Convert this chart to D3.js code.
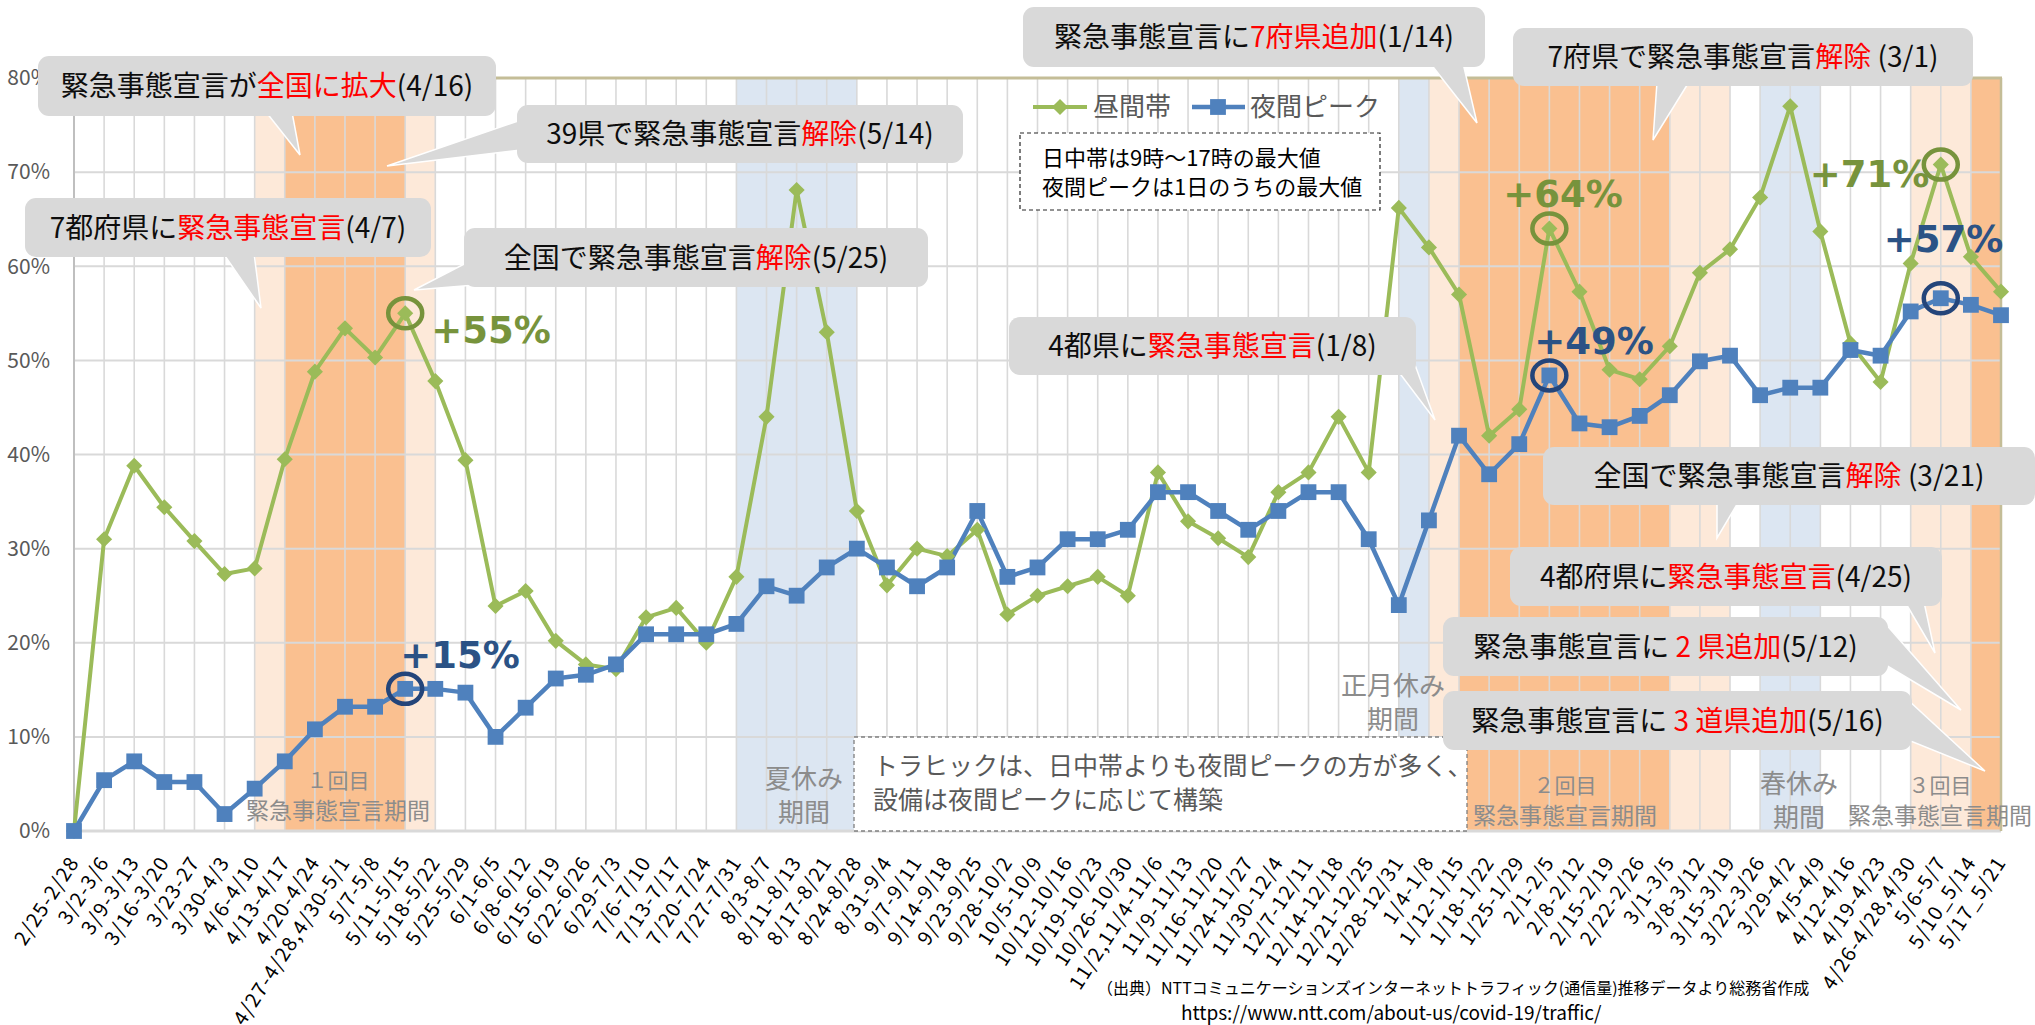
<!DOCTYPE html>
<html>
<head>
<meta charset="utf-8">
<script src="https://cdn.jsdelivr.net/npm/d3@7"></script>
<style>
  body { margin: 0; background: #fff; }
  svg { display: block; }
  text { font-family: "Noto Sans CJK JP", "Noto Sans", sans-serif; }
</style>
</head>
<body>
<script>
// week labels (x axis)
const categories = [
  "2/25-2/28", "3/2-3/6", "3/9-3/13", "3/16-3/20", "3/23-27", "3/30-4/3", "4/6-4/10",
  "4/13-4/17", "4/20-4/24", "4/27-4/28,4/30-5/1", "5/7-5/8", "5/11-5/15", "5/18-5/22",
  "5/25-5/29", "6/1-6/5", "6/8-6/12", "6/15-6/19", "6/22-6/26", "6/29-7/3", "7/6-7/10",
  "7/13-7/17", "7/20-7/24", "7/27-7/31", "8/3-8/7", "8/11-8/13", "8/17-8/21", "8/24-8/28",
  "8/31-9/4", "9/7-9/11", "9/14-9/18", "9/23-9/25", "9/28-10/2", "10/5-10/9", "10/12-10/16",
  "10/19-10/23", "10/26-10/30", "11/2,11/4-11/6", "11/9-11/13", "11/16-11/20", "11/24-11/27",
  "11/30-12/4", "12/7-12/11", "12/14-12/18", "12/21-12/25", "12/28-12/31", "1/4-1/8",
  "1/12-1/15", "1/18-1/22", "1/25-1/29", "2/1-2/5", "2/8-2/12", "2/15-2/19", "2/22-2/26",
  "3/1-3/5", "3/8-3/12", "3/15-3/19", "3/22-3/26", "3/29-4/2", "4/5-4/9", "4/12-4/16",
  "4/19-4/23", "4/26-4/28,4/30", "5/6-5/7", "5/10_5/14", "5/17_5/21"
];

// 昼間帯 (%)
const daytime = [
  0, 31.0, 38.8, 34.4, 30.8, 27.3, 27.9, 39.5, 48.8, 53.4, 50.3, 55.0, 47.8, 39.4,
  23.9, 25.5, 20.2, 17.7, 17.2, 22.7, 23.7, 20.0, 27.0, 44.0, 68.1, 53.0, 34.0, 26.1,
  30.0, 29.2, 32.0, 23.0, 25.0, 26.0, 27.0, 25.0, 38.1, 32.9, 31.1, 29.1, 36.0, 38.1,
  44.0, 38.1, 66.2, 62.0, 57.0, 42.0, 44.8, 64.0, 57.3, 49.0, 48.0, 51.5, 59.3, 61.8,
  67.3, 77.0, 63.7, 51.8, 47.7, 60.3, 70.8, 61.0, 57.3
];

// 夜間ピーク (%)
const nighttime = [
  0, 5.4, 7.4, 5.2, 5.2, 1.8, 4.5, 7.4, 10.8, 13.2, 13.2, 15.1, 15.1, 14.7,
  10.0, 13.1, 16.2, 16.6, 17.7, 20.9, 20.9, 20.9, 22.0, 26.0, 25.0, 28.0, 30.0, 28.0,
  26.0, 28.0, 34.0, 27.0, 28.0, 31.0, 31.0, 32.0, 36.0, 36.0, 34.0, 32.0, 34.0, 36.0,
  36.0, 31.0, 24.0, 33.0, 42.0, 37.9, 41.1, 48.4, 43.3, 42.9, 44.1, 46.3, 49.9, 50.5,
  46.3, 47.1, 47.1, 51.1, 50.5, 55.2, 56.6, 55.9, 54.8
];

const yTicks = [0, 10, 20, 30, 40, 50, 60, 70, 80];

// shaded periods, in category indexes
const bandFrom = [6, 7, 11, 22, 44, 45, 46, 53, 56, 61, 63];
const bandTo   = [7, 11, 12, 26, 45, 46, 53, 55, 58, 63, 64];
const bandKind = ["pre", "state", "pre", "holiday", "holiday", "pre", "state", "pre", "holiday", "pre", "state"];

// highlighted points
const highlightIdx = [11, 11, 49, 49, 62, 62];
const highlightSeries = ["day", "night", "day", "night", "day", "night"];
const highlightText = ["+55%", "+15%", "+64%", "+49%", "+71%", "+57%"];

// callout texts: before / red part / after
const calloutPre  = ["緊急事態宣言が", "39県で緊急事態宣言", "7都府県に", "全国で緊急事態宣言",
  "緊急事態宣言に", "7府県で緊急事態宣言", "4都県に", "全国で緊急事態宣言",
  "4都府県に", "緊急事態宣言に ", "緊急事態宣言に "];
const calloutRed  = ["全国に拡大", "解除", "緊急事態宣言", "解除", "7府県追加", "解除",
  "緊急事態宣言", "解除", "緊急事態宣言", "2 県追加", "3 道県追加"];
const calloutPost = ["(4/16)", "(5/14)", "(4/7)", "(5/25)", "(1/14)", " (3/1)", "(1/8)",
  " (3/21)", "(4/25)", "(5/12)", "(5/16)"];

const periodLines = [["１回目", "緊急事態宣言期間"], ["夏休み", "期間"], ["正月休み", "期間"],
  ["２回目", "緊急事態宣言期間"], ["春休み", "期間"], ["３回目", "緊急事態宣言期間"]];

const width = 2035, height = 1025;

const x = d3.scalePoint().domain(d3.range(categories.length)).range([74, 2001]);
const y = d3.scaleLinear().domain([0, 80]).range([831, 78]);

const green = "#9bbb59", blue = "#4f81bd";
const greenDark = "#77933c", blueDark = "#2b5285";
const bandColor = { pre: "#fde9d9", state: "#fac090", holiday: "#dce6f2" };

const svg = d3.select("body").append("svg")
  .attr("width", width).attr("height", height)
  .attr("viewBox", [0, 0, width, height]);

svg.append("rect").attr("width", width).attr("height", height).attr("fill", "#fff");

// bands
svg.append("g").selectAll("rect")
  .data(bandFrom.map((f, i) => ({ f, t: bandTo[i], k: bandKind[i] })))
  .join("rect")
  .attr("x", d => x(d.f)).attr("width", d => x(d.t) - x(d.f))
  .attr("y", y(80)).attr("height", y(0) - y(80))
  .attr("fill", d => bandColor[d.k]);

// grid
const grid = svg.append("g").attr("stroke", "#d9d9d9");
grid.selectAll(".v").data(d3.range(categories.length)).join("line")
  .attr("x1", d => x(d)).attr("x2", d => x(d))
  .attr("y1", y(80)).attr("y2", y(0)).attr("stroke-width", 1.6);
grid.selectAll(".h").data(yTicks.slice(1, -1)).join("line")
  .attr("x1", x(0)).attr("x2", x(categories.length - 1))
  .attr("y1", d => y(d)).attr("y2", d => y(d)).attr("stroke-width", 2);
svg.append("line").attr("x1", x(0)).attr("x2", x(categories.length - 1))
  .attr("y1", y(0)).attr("y2", y(0)).attr("stroke", "#d9d9d9").attr("stroke-width", 3);
svg.append("line").attr("x1", x(0) - 1).attr("x2", x(categories.length - 1) + 1)
  .attr("y1", y(80)).attr("y2", y(80)).attr("stroke", "#c4bd97").attr("stroke-width", 3);
svg.append("line").attr("x1", x(categories.length - 1)).attr("x2", x(categories.length - 1))
  .attr("y1", y(80)).attr("y2", y(0)).attr("stroke", "#c4bd97").attr("stroke-width", 2.5);
svg.append("line").attr("x1", x(0)).attr("x2", x(0))
  .attr("y1", y(80)).attr("y2", y(0)).attr("stroke", "#bfbfbf").attr("stroke-width", 2);

// y axis labels
svg.append("g").selectAll("text").data(yTicks).join("text")
  .attr("x", 50).attr("y", d => y(d)).attr("dy", "0.35em")
  .attr("text-anchor", "end").attr("font-size", 21).attr("fill", "#595959")
  .text(d => d + "%");

// x axis labels
svg.append("g").selectAll("text").data(categories).join("text")
  .attr("transform", (d, i) => `translate(${x(i) + 6},${862}) rotate(-57)`)
  .attr("text-anchor", "end").attr("font-size", 20).attr("letter-spacing", 1.3)
  .attr("fill", "#000")
  .text(d => d);

// dashed note at the bottom
svg.append("rect").attr("x", 854).attr("y", 737).attr("width", 613).attr("height", 94)
  .attr("fill", "#fff").attr("stroke", "#7f7f7f").attr("stroke-width", 1.3)
  .attr("stroke-dasharray", "4,3");
svg.append("text").attr("x", 873).attr("y", 766).attr("dy", "0.35em")
  .attr("font-size", 25).attr("fill", "#595959")
  .text("トラヒックは、日中帯よりも夜間ピークの方が多く、");
svg.append("text").attr("x", 873).attr("y", 800).attr("dy", "0.35em")
  .attr("font-size", 25).attr("fill", "#595959")
  .text("設備は夜間ピークに応じて構築");

// period labels
const periodX = [338, 804, 1393, 1565, 1799, 1940];
const periodY = [[781, 811], [779, 813], [686, 720], [786, 816], [784, 818], [786, 816]];
const periodSize = [[21, 23], [26, 26], [26, 26], [21, 23], [26, 26], [21, 23]];
periodLines.forEach((lines, i) => {
  lines.forEach((t, j) => {
    svg.append("text").attr("x", periodX[i]).attr("y", periodY[i][j]).attr("dy", "0.35em")
      .attr("text-anchor", "middle").attr("font-size", periodSize[i][j])
      .attr("fill", "#8c8c8c").text(t);
  });
});

// lines
const line = d3.line().x((d, i) => x(i)).y(d => y(d));
svg.append("path").datum(daytime).attr("d", line)
  .attr("fill", "none").attr("stroke", green).attr("stroke-width", 4)
  .attr("stroke-linejoin", "round");
svg.append("path").datum(nighttime).attr("d", line)
  .attr("fill", "none").attr("stroke", blue).attr("stroke-width", 4.5)
  .attr("stroke-linejoin", "round");

const diamond = d3.symbol().type(d3.symbolSquare).size(130);
const square = d3.symbol().type(d3.symbolSquare).size(250);

svg.append("g").selectAll("path").data(daytime).join("path")
  .attr("d", diamond)
  .attr("transform", (d, i) => `translate(${x(i)},${y(d)}) rotate(45)`)
  .attr("fill", green);
svg.append("g").selectAll("path").data(nighttime).join("path")
  .attr("d", square)
  .attr("transform", (d, i) => `translate(${x(i)},${y(d)})`)
  .attr("fill", blue);

// highlight circles and labels
const labelDx = [26, -5, -46, -15, -131, -57];
const labelDy = [30, -21, -22, -21, 22, -46];
highlightIdx.forEach((idx, i) => {
  const isDay = highlightSeries[i] === "day";
  const v = isDay ? daytime[idx] : nighttime[idx];
  const cx = x(idx), cy = y(v);
  svg.append("ellipse").attr("cx", cx).attr("cy", cy).attr("rx", 17).attr("ry", 15)
    .attr("fill", "none").attr("stroke", isDay ? greenDark : "#24457a").attr("stroke-width", 4.5);
  svg.append("text").attr("x", cx + labelDx[i]).attr("y", cy + labelDy[i])
    .style("font-family", "'DejaVu Sans', Verdana, sans-serif")
    .attr("font-weight", "bold").attr("font-size", 37)
    .attr("fill", isDay ? greenDark : blueDark)
    .text(highlightText[i]);
});

// callouts
const boxes = [
  [38, 56, 458, 60], [517, 105, 446, 58], [25, 198, 406, 59], [464, 228, 464, 59],
  [1023, 7, 462, 60], [1513, 28, 460, 58], [1009, 317, 407, 58], [1543, 447, 492, 58],
  [1510, 547, 432, 59], [1443, 617, 445, 59], [1443, 691, 469, 59]
];
const tails = [
  [[266, 112], [292, 112], [300, 155]],
  [[521, 120], [521, 150], [387, 166]],
  [[223, 253], [254, 253], [261, 308]],
  [[468, 262], [500, 283], [414, 290]],
  [[1430, 63], [1463, 63], [1477, 123]],
  [[1657, 82], [1689, 82], [1653, 140]],
  [[1398, 371], [1414, 362], [1435, 420]],
  [[1717, 501], [1739, 501], [1717, 538]],
  [[1905, 602], [1924, 602], [1935, 653]],
  [[1884, 622], [1884, 664], [1961, 710]],
  [[1908, 700], [1908, 740], [1985, 771]]
];
const callouts = svg.append("g");
boxes.forEach((b, i) => {
  const g = callouts.append("g");
  g.append("path").attr("d", "M" + tails[i].join("L") + "Z")
    .attr("fill", "#d9d9d9").attr("stroke", "#fff").attr("stroke-width", 1.5);
  g.append("rect").attr("x", b[0]).attr("y", b[1]).attr("width", b[2]).attr("height", b[3])
    .attr("rx", 11).attr("fill", "#d9d9d9");
  const t = g.append("text").attr("x", b[0] + b[2] / 2).attr("y", b[1] + b[3] / 2)
    .attr("dy", "0.36em").attr("text-anchor", "middle").attr("font-size", 28).attr("fill", "#0d0d0d");
  t.append("tspan").text(calloutPre[i]);
  t.append("tspan").attr("fill", "#ff0000").text(calloutRed[i]);
  t.append("tspan").text(calloutPost[i]);
});

// legend
const legend = svg.append("g");
legend.append("line").attr("x1", 1033).attr("x2", 1087).attr("y1", 107).attr("y2", 107)
  .attr("stroke", green).attr("stroke-width", 4);
legend.append("path").attr("d", diamond).attr("transform", "translate(1060,107) rotate(45)").attr("fill", green);
legend.append("text").attr("x", 1093).attr("y", 107).attr("dy", "0.36em")
  .attr("font-size", 26).attr("fill", "#595959").text("昼間帯");
legend.append("line").attr("x1", 1192).attr("x2", 1245).attr("y1", 107).attr("y2", 107)
  .attr("stroke", blue).attr("stroke-width", 4.5);
legend.append("path").attr("d", square).attr("transform", "translate(1218,107)").attr("fill", blue);
legend.append("text").attr("x", 1250).attr("y", 107).attr("dy", "0.36em")
  .attr("font-size", 26).attr("fill", "#595959").text("夜間ピーク");

// definition note
svg.append("rect").attr("x", 1020).attr("y", 133).attr("width", 360).attr("height", 77)
  .attr("fill", "#fff").attr("stroke", "#262626").attr("stroke-width", 1.2)
  .attr("stroke-dasharray", "4,3");
svg.append("text").attr("x", 1042).attr("y", 158).attr("dy", "0.36em")
  .attr("font-size", 22).attr("fill", "#000").text("日中帯は9時～17時の最大値");
svg.append("text").attr("x", 1042).attr("y", 187).attr("dy", "0.36em")
  .attr("font-size", 22).attr("fill", "#000").text("夜間ピークは1日のうちの最大値");

// source
svg.append("text").attr("x", 1097).attr("y", 988).attr("dy", "0.36em")
  .attr("font-size", 16).attr("fill", "#000")
  .text("（出典）NTTコミュニケーションズインターネットトラフィック(通信量)推移データより総務省作成");
svg.append("text").attr("x", 1181).attr("y", 1013).attr("dy", "0.36em")
  .attr("font-size", 19).attr("fill", "#000")
  .text("https://www.ntt.com/about-us/covid-19/traffic/");
</script>
</body>
</html>
